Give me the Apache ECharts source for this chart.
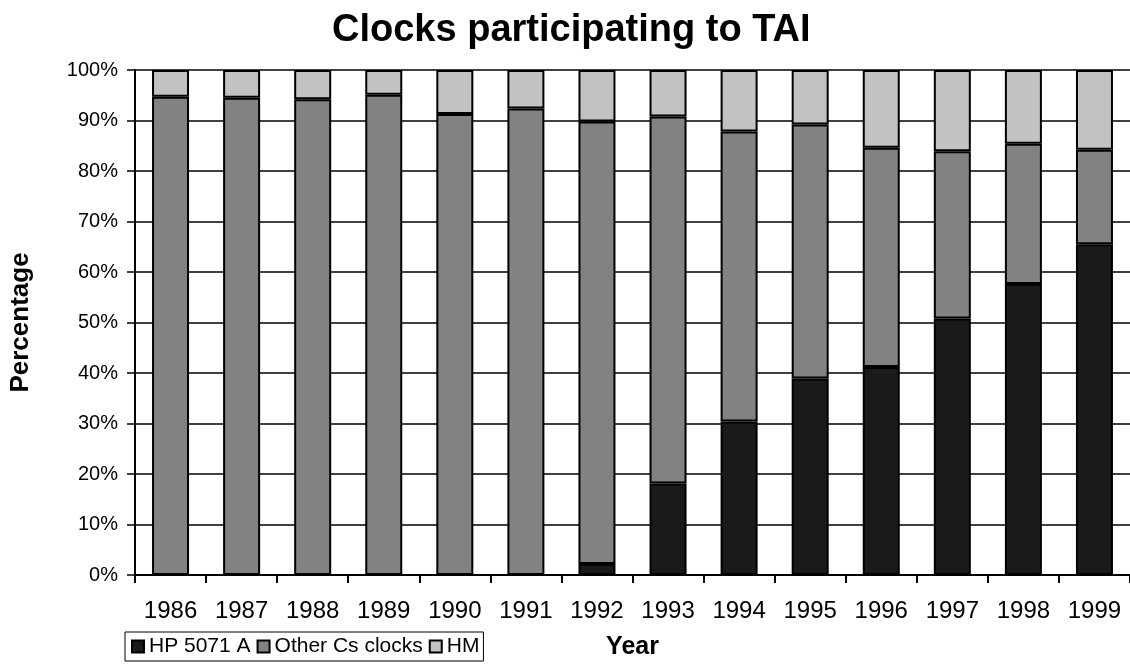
<!DOCTYPE html>
<html>
<head>
<meta charset="utf-8">
<script src="https://cdn.jsdelivr.net/npm/echarts@6/dist/echarts.min.js"></script>
<style>
html,body{margin:0;padding:0;background:#fff;}
#chart{width:1130px;height:665px;}
</style>
</head>
<body>
<div id="chart"></div>
<script>
const years = ['1986','1987','1988','1989','1990','1991','1992','1993','1994','1995','1996','1997','1998','1999'];
const hp5071 = [0, 0, 0, 0, 0, 0, 2.2, 18.1, 30.4, 38.9, 41.2, 50.8, 57.6, 65.5];
const otherCs = [94.7, 94.5, 94.2, 95.1, 91.3, 92.4, 87.6, 72.7, 57.4, 50.3, 43.4, 33.1, 27.8, 18.7];
const hm = [5.3, 5.5, 5.8, 4.9, 8.7, 7.6, 10.2, 9.2, 12.2, 10.8, 15.4, 16.1, 14.6, 15.8];
const seriesNames = ['HP 5071 A', 'Other Cs clocks', 'HM'];

const FONT = '"Liberation Sans", Arial, Helvetica, sans-serif';
const chart = echarts.init(document.getElementById('chart'), null, {renderer: 'canvas'});
const colors = ['#1a1a1a', '#828282', '#c2c2c2'];
const dataSets = [hp5071, otherCs, hm];

chart.setOption({
  animation: false,
  backgroundColor: '#ffffff',
  textStyle: {fontFamily: FONT, color: '#000'},
  title: {
    text: 'Clocks participating to TAI',
    left: 327, top: 7,
    textStyle: {fontFamily: FONT, fontSize: 38, fontWeight: 'bold', color: '#000'}
  },
  legend: {
    data: seriesNames,
    left: 125, top: 632,
    orient: 'horizontal',
    icon: 'rect',
    itemWidth: 12, itemHeight: 12, itemGap: 6,
    padding: [4, 4, 4, 6],
    borderColor: '#000', borderWidth: 1,
    textStyle: {fontFamily: FONT, fontSize: 21, color: '#000', padding: [0, 0, 0, 0]}
  },
  grid: {left: 135, right: 0, top: 70, bottom: 88, containLabel: false},
  xAxis: {
    type: 'category',
    data: years,
    name: 'Year',
    nameLocation: 'middle',
    nameGap: 60,
    nameTextStyle: {fontFamily: FONT, fontSize: 25, fontWeight: 'bold', color: '#000'},
    axisLine: {lineStyle: {color: '#000', width: 2}},
    axisTick: {show: true, interval: 0, length: 8, lineStyle: {color: '#000', width: 2}},
    axisLabel: {interval: 0, margin: 24, fontFamily: FONT, fontSize: 24, color: '#000'},
    splitLine: {show: false}
  },
  yAxis: {
    type: 'value',
    min: 0, max: 100, interval: 10,
    name: 'Percentage',
    nameLocation: 'middle',
    nameRotate: 90,
    nameGap: 101,
    nameTextStyle: {fontFamily: FONT, fontSize: 26, fontWeight: 'bold', color: '#000'},
    axisLine: {show: true, lineStyle: {color: '#000', width: 2}},
    axisTick: {show: true, length: 8, lineStyle: {color: '#000', width: 1.5}},
    axisLabel: {formatter: '{value}%', margin: 17, fontFamily: FONT, fontSize: 20, color: '#000'},
    splitLine: {show: true, lineStyle: {color: '#000', width: 1.5}}
  },
  series: seriesNames.map((name, i) => ({
    name: name,
    type: 'bar',
    stack: 'total',
    barWidth: 37,
    data: dataSets[i],
    itemStyle: {color: colors[i], borderColor: '#000', borderWidth: 2}
  }))
});
</script>
</body>
</html>
